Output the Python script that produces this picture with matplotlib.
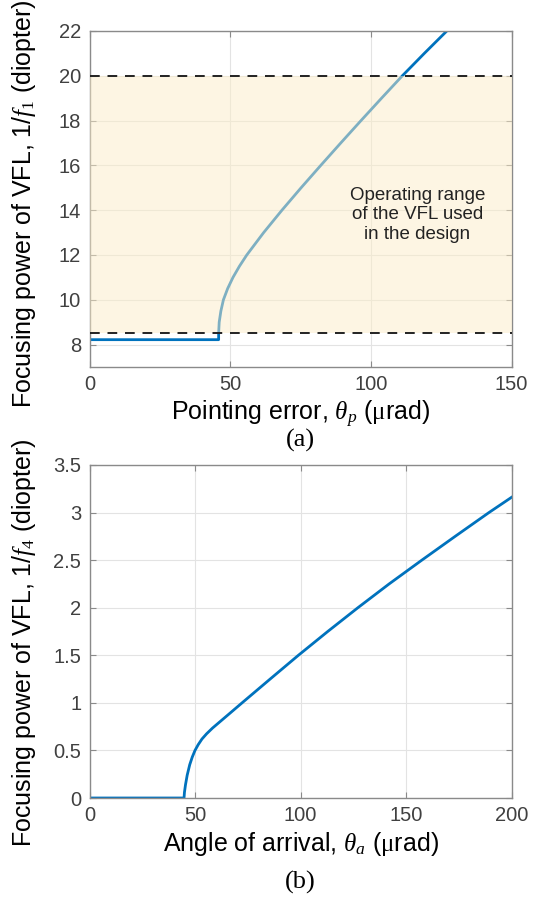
import numpy as np
import matplotlib
matplotlib.use("Agg")
import matplotlib.pyplot as plt

plt.rcParams['font.family'] = ['Liberation Sans', 'DejaVu Sans']
plt.rcParams['mathtext.fontset'] = 'custom'
plt.rcParams['mathtext.it'] = 'Liberation Serif:italic'
plt.rcParams['mathtext.rm'] = 'Liberation Serif'

# (a) focusing power vs pointing error
pe_x = [0, 45.9, 45.9, 46.1, 46.7, 47.6, 49.1, 51.0, 53.3, 55.9, 61.9, 68.4, 75.2, 82.2, 89.3, 96.5, 103.8, 111.2, 119.0, 127.0]
pe_y = [8.22, 8.22, 8.5, 9.0, 9.5, 10.0, 10.5, 11.0, 11.5, 12.0, 13.0, 14.0, 15.0, 16.0, 17.0, 18.0, 19.0, 20.0, 21.0, 22.0]
band_lo, band_hi = 8.5, 20
# (b) focusing power vs angle of arrival
aoa_x = [0, 44.8, 45.0, 45.5, 46.3, 47.5, 48.7, 50, 51.5, 53.3, 55.5, 58.3, 62, 66.5, 72.3, 85.6, 99.0, 112.9, 127.2, 142.0, 157.5, 173.3, 189.3, 200]
aoa_y = [0, 0, 0.06, 0.14, 0.24, 0.35, 0.43, 0.5, 0.56, 0.62, 0.675, 0.735, 0.805, 0.89, 1.0, 1.25, 1.5, 1.75, 2.0, 2.25, 2.5, 2.75, 3.0, 3.16]

blue = "#0072BD"
spine = "#8a8a8a"
tick_c = "#404040"

fig = plt.figure(figsize=(5.42, 9.07), dpi=100)
W, H = 542, 907
ax1 = fig.add_axes([89.5 / W, 1 - 367 / H, 422 / W, 336 / H])
ax2 = fig.add_axes([89.5 / W, 1 - 798 / H, 422 / W, 333 / H])

def style(ax):
    ax.grid(True, color="#e3e3e3", linewidth=0.8)
    ax.set_axisbelow(True)
    for s in ax.spines.values():
        s.set_color(spine)
        s.set_linewidth(1.0)
    ax.tick_params(direction="in", top=True, right=True, length=4, color=spine,
                   labelsize=14.5, labelcolor=tick_c, pad=6)

ax1.plot(pe_x, pe_y, color=blue, linewidth=2)
ax1.axhspan(band_lo, band_hi, color="#fcedc8", alpha=0.5, linewidth=0, zorder=3)
ax1.axhline(band_hi, color="#222222", linestyle=(0, (5, 4)), linewidth=1.4, zorder=4)
ax1.axhline(band_lo, color="#222222", linestyle=(0, (5, 4)), linewidth=1.4, zorder=4)
ax1.text(116.5, 13.8, "Operating range\nof the VFL used\nin the design", ha="center", va="center",
         fontsize=13.5, color="#222222", linespacing=1.2, zorder=5)
ax1.set_xlim(0, 150)
ax1.set_ylim(7, 22)
ax1.set_xticks([0, 50, 100, 150])
ax1.set_yticks([8, 10, 12, 14, 16, 18, 20, 22])
style(ax1)
ax1.set_xlabel(r"Pointing error, $\mathit{\theta_p}$ ($\mathrm{\mu}$rad)", fontsize=18, labelpad=3)
ax1.set_ylabel(r"Focusing power of VFL, 1/$\mathit{f_1}$ (diopter)", fontsize=18)
ax1.yaxis.set_label_coords(-0.122, 0.485)
fig.text(300.5 / W, 1 - 440 / H, "(a)", fontsize=19, family="Liberation Serif", ha="center", va="center")

ax2.plot(aoa_x, aoa_y, color=blue, linewidth=2)
ax2.set_xlim(0, 200)
ax2.set_ylim(0, 3.5)
ax2.set_xticks([0, 50, 100, 150, 200])
ax2.set_yticks([0, 0.5, 1, 1.5, 2, 2.5, 3, 3.5])
ax2.set_yticklabels(["0", "0.5", "1", "1.5", "2", "2.5", "3", "3.5"])
style(ax2)
ax2.set_xlabel(r"Angle of arrival, $\mathit{\theta_a}$ ($\mathrm{\mu}$rad)", fontsize=18, labelpad=3)
ax2.set_ylabel(r"Focusing power of VFL, 1/$\mathit{f_4}$ (diopter)", fontsize=18)
ax2.yaxis.set_label_coords(-0.122, 0.468)
fig.text(300.5 / W, 1 - 882 / H, "(b)", fontsize=19, family="Liberation Serif", ha="center", va="center")

fig.savefig("out.png", dpi=100)
